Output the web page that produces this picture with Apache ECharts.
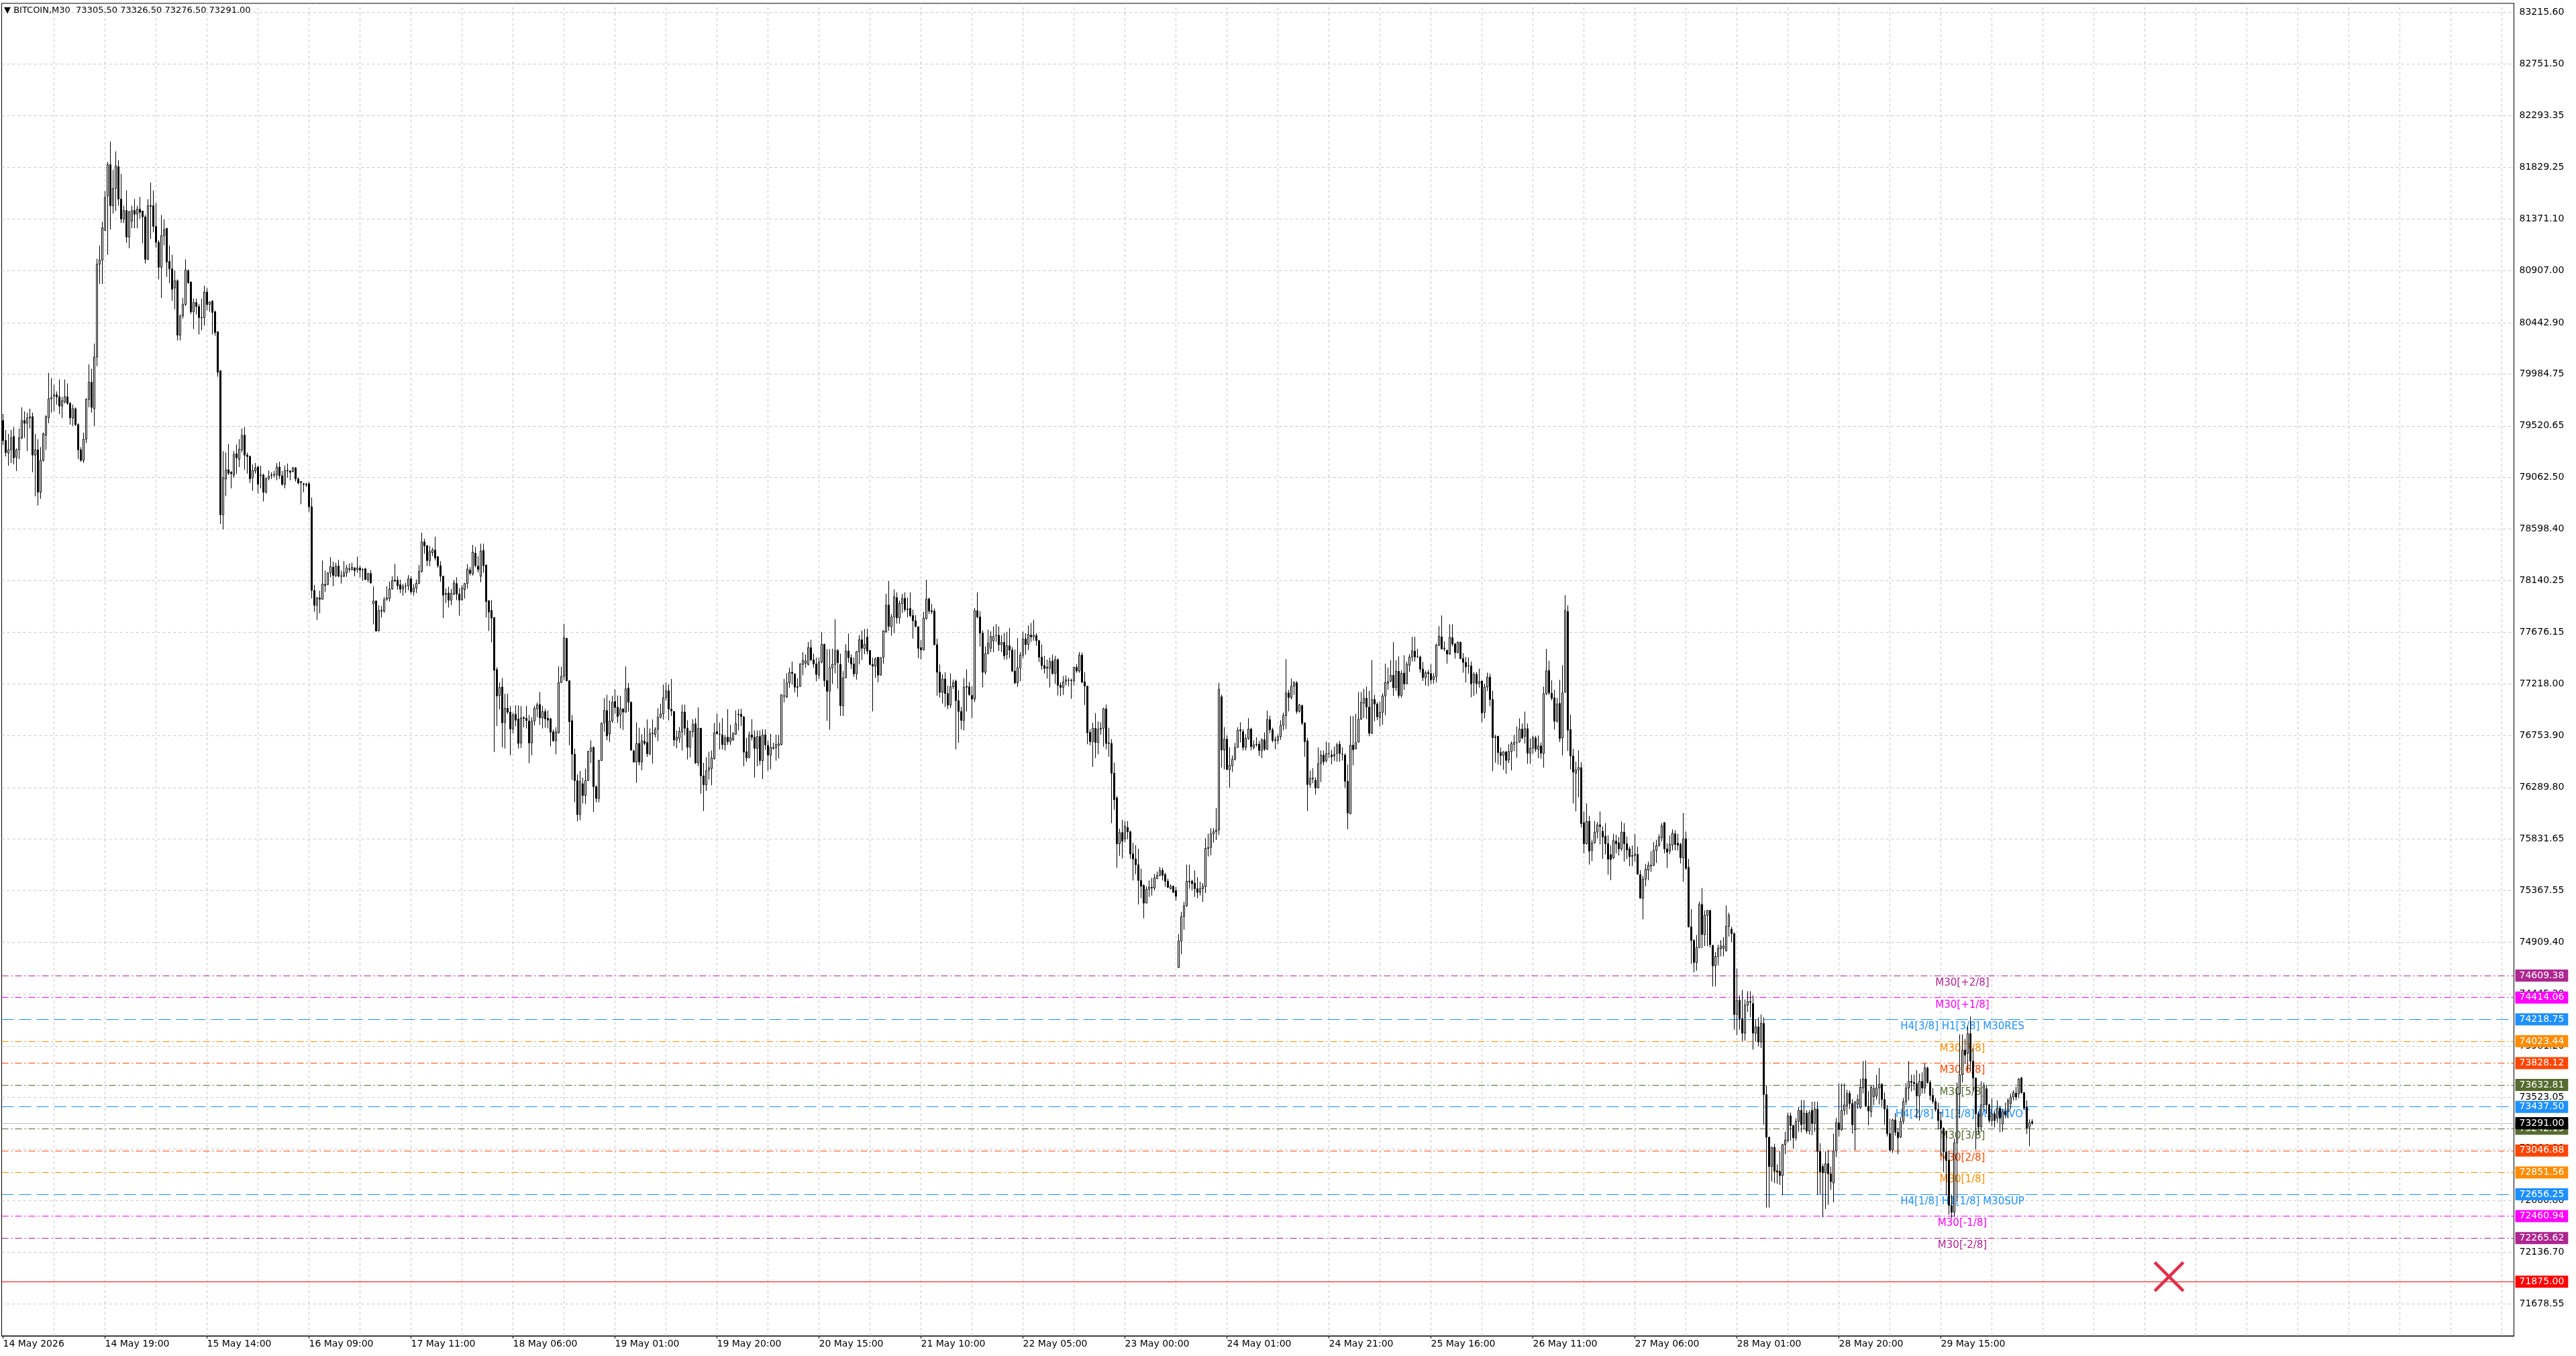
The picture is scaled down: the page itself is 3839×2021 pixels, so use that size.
<!DOCTYPE html>
<html>
<head>
<meta charset="utf-8">
<script src="https://cdn.jsdelivr.net/npm/echarts/dist/echarts.min.js"></script>
<style>
html,body{margin:0;padding:0;background:#fff;}
#chart{width:3839px;height:2021px;}
</style>
</head>
<body>
<div id="chart"></div>
<script>
const symbolName = 'BITCOIN,M30';

const timeLabels = ['14 May 2026','14 May 19:00','15 May 14:00','16 May 09:00','17 May 11:00','18 May 06:00','19 May 01:00','19 May 20:00','20 May 15:00','21 May 10:00','22 May 05:00','23 May 00:00','24 May 01:00','24 May 21:00','25 May 16:00','26 May 11:00','27 May 06:00','28 May 01:00','28 May 20:00','29 May 15:00'];

const open = [
79568,79390,79279,79307,79426,79241,79307,79414,79568,79544,
79592,79603,79260,79307,78928,79213,79437,79596,79762,79786,
79798,79781,79698,79734,79781,79722,79592,79674,79532,79307,
79213,79402,79757,79911,79674,80137,80966,81002,81267,81575,
81855,81488,81642,81836,81547,81369,81445,81208,81350,81445,
81412,81457,81440,81388,81009,81488,81488,81303,81161,80938,
81220,81286,80990,80923,80753,80817,80331,80504,80606,80907,
80805,80540,80623,80587,80488,80488,80717,80606,80634,80540,
80362,80013,78727,79046,79129,79106,79082,79272,79224,79307,
79437,79260,79248,79058,79118,79153,79082,79082,78928,79051,
79078,79082,79082,79153,79075,78999,79122,79118,79113,79146,
79047,79023,79004,78999,79004,78798,78050,
77918,77984,77972,78104,78104,78208,78258,78184,78268,78180,
78178,78208,78238,78238,78252,78236,78250,78236,78244,78148,
78202,77932,77958,77692,77872,77866,77972,77978,78064,78142,
78142,78102,78062,78090,78092,78154,78038,78072,78114,78222,
78484,78452,78318,78388,78412,78352,78272,78178,78022,78028,
77964,78018,78112,78018,77968,78060,78112,78232,78198,78384,
78268,78178,78408,78278,77958,77872,77808,77344,77112,77188,
76872,76998,76964,76812,76944,76902,76688,76914,76908,76884,
76688,76884,76994,77032,76912,76968,76908,76904,76788,76708,
76778,77228,77284,77622,77244,76888,76588,76352,76048,76324,
76218,76352,76612,76648,76298,76192,76532,76868,76978,76768,
76884,77058,77008,76938,76992,76964,77178,77052,76618,76518,
76684,76518,76704,76692,76592,76772,76764,76812,76918,76948,
77094,77154,76990,76970,76714,76730,76786,76964,76820,76650,
76790,76860,76510,76820,76394,76314,76444,76460,76546,76790,
76766,76760,76674,76740,76700,76714,76766,76944,76944,76920,
76610,76560,76760,76740,76640,76746,76530,76760,76666,76580,
76646,76646,76666,76674,77106,77100,77226,77320,77306,77190,
77194,77390,77400,77390,77540,77430,77394,77294,77410,77570,
77246,77150,77360,77390,77514,77390,77020,77270,77510,77450,
77394,77306,77504,77610,77530,77634,77514,77390,77374,77454,
77294,77454,77680,77920,77726,77814,77986,77806,77934,77980,
77884,77890,77826,77780,77726,77540,77520,77800,77974,77870,
77866,77566,77320,77140,77260,77130,77026,77190,77240,77066,
76970,76890,77186,77190,77114,77080,77870,77814,77670,77320,
77486,77534,77600,77650,77650,77566,77586,
77478,77557,77518,77331,77225,77360,77473,77617,77568,77651,
77636,77647,77602,77455,77380,77365,77354,77421,77309,77433,
77203,77185,77239,77248,77248,77245,77365,77331,77473,77234,
77196,76783,76700,76819,76693,76812,76819,76993,76689,76684,
76418,76197,75787,75888,75830,75933,75895,75697,75652,75600,
75460,75415,75257,75381,75399,75392,75476,75505,75550,75512,
75453,75385,75408,75370,74682,74919,75138,75234,75453,75453,
75437,75386,75354,75386,75404,75746,75753,75877,75895,75911,
77100,76625,76722,76452,76486,76542,76648,76806,76790,76648,
76729,76812,76648,76677,76677,76621,76716,76632,76896,76806,
76716,76711,76745,76846,76932,77135,77095,77196,77225,76970,
77022,76865,76707,76317,76373,76355,76287,76504,76580,76531,
76594,76580,76572,76594,76677,76587,76580,76346,
76056,76668,76636,76696,76902,77042,77088,77008,76776,77076,
77036,76916,76962,77108,77222,77240,77292,77182,77328,77112,
77312,77216,77382,77456,77508,77458,77456,77348,77272,77316,
77308,77256,77282,77562,77636,77528,77516,77482,77628,77572,
77496,77588,77442,77408,77376,77376,77228,77302,77222,77242,
76962,77188,77276,77076,76736,76748,76602,76576,76608,76536,
76612,76676,76692,76700,76812,76748,76816,76596,76642,76732,
76632,76662,76596,77128,77336,77132,77092,76882,77042,76732,
77142,77862,76808,76572,76416,76448,76468,75976,75788,75988,
75728,75796,75892,75956,75900,75856,75788,75690,75662,75812,
75796,75742,75892,75788,75742,75682,75682,75692,75512,75302,
75472,75552,75588,75596,75728,75772,75842,75976,75742,75722,
75776,75876,75792,75782,75662,75832,75576,
75045,74923,74727,74861,75246,74976,75148,75192,74879,74697,
74781,74850,74854,74830,75050,75025,74984,74262,74389,74225,
74095,74347,74378,74360,74095,74152,74017,74183,73547,73166,
72904,73075,72867,72862,72823,73100,73136,73357,73271,73161,
73308,73406,73288,73381,73222,73406,73288,73418,73039,72904,
72848,72929,72838,72757,73044,73295,73234,73406,73442,73557,
73467,73234,73460,73430,73606,73687,73442,73393,73528,73533,
73606,73638,73503,73418,73198,73051,73320,73210,73166,73308,
73484,73605,73665,73655,73645,73535,73665,73605,73785,73655,
73539,73485,73415,73315,73245,73035,72959,72555,72495,73115,
73555,73725,73945,73915,74091,73845,73695,73375,73259,73455,
73599,73455,73315,73375,73335,73425,73285,73395,73395,73465,
73525,73559,73555,73695,73565,73435,73255,73305.5
];

const high = [
79627,79485,79449,79485,79509,79319,79497,79686,79651,79639,
79674,79639,79449,79402,79331,79461,79615,79994,79947,79888,
79828,79935,79781,79935,79900,79734,79710,79686,79544,79331,
79461,79769,80070,80030,80255,81014,81132,81345,81618,81879,
82061,81808,81973,81895,81772,81488,81625,81440,81488,81547,
81488,81566,81440,81405,81545,81694,81625,81511,81180,81405,
81364,81286,81132,81049,80907,80829,80516,80663,81009,80919,
80812,80658,80658,80611,80658,80772,80753,80634,80646,80551,
80362,80018,79295,79283,79359,79118,79295,79355,79402,79497,
79509,79283,79255,79177,79189,79165,79165,79094,79058,79122,
79106,79118,79189,79201,79118,79165,79184,79122,79153,79153,
79058,79023,79011,79011,79018,78880,78100,
77992,78048,78318,78228,78212,78348,78308,78298,78324,78228,
78312,78278,78292,78298,78258,78352,78272,78252,78252,78208,
78232,78088,77958,77918,77912,77992,78088,78128,78178,78288,
78178,78148,78108,78118,78188,78178,78108,78148,78278,78568,
78512,78452,78448,78432,78532,78358,78312,78178,78068,78084,
78064,78144,78168,78072,78098,78118,78284,78258,78458,78438,
78358,78468,78468,78278,77964,77964,77812,77364,77228,77268,
77128,77128,77018,76958,77024,77024,77018,76928,77018,76938,
76918,77018,77048,77144,77018,76992,76978,76912,76808,76828,
77372,77368,77752,77628,77248,76938,76638,76408,76438,76378,
76458,76618,76712,76658,76308,76538,76872,77088,77118,77068,
77108,77168,77112,77108,76998,77372,77224,77058,76628,76872,
76824,76764,76824,76898,76818,76898,76828,76998,77038,77208,
77230,77210,77260,76970,76800,76830,77030,77030,76890,76800,
76900,76910,77006,76820,76510,76560,76610,76620,76866,76950,
76870,76910,76760,76990,76850,76786,76980,76990,76994,76930,
76734,76790,76900,76800,76800,76800,76810,76810,76710,76770,
76690,76760,76760,77120,77260,77310,77360,77414,77306,77266,
77400,77500,77480,77590,77610,77486,77450,77450,77680,77574,
77526,77526,77530,77794,77526,77486,77330,77570,77666,77480,
77454,77510,77650,77694,77706,77710,77520,77450,77454,77454,
77454,77694,78020,78134,77840,78060,78034,77960,78020,78034,
77986,78034,77880,77830,77730,77610,77860,78146,77986,77930,
77890,77620,77390,77300,77320,77200,77310,77254,77254,77160,
77010,77266,77346,77234,77194,77894,78034,77866,77694,77550,
77700,77686,77730,77750,77730,77650,77674,
77681,77714,77545,77523,77624,77500,77681,77669,77737,77760,
77789,77669,77609,77568,77466,77433,77451,77478,77466,77444,
77230,77286,77293,77270,77263,77369,77392,77500,77496,77320,
77196,76812,76869,76955,76880,76873,77004,77031,76824,76722,
76513,76215,75922,76001,75990,75990,75904,75798,75776,75742,
75566,75426,75408,75460,75483,75517,75539,75580,75573,75528,
75476,75426,75415,75403,74980,75179,75269,75602,75602,75467,
75550,75489,75449,75437,75836,75877,75927,75927,76107,77225,
77120,76830,76756,76648,76576,76689,76828,76873,76812,76767,
76910,76824,76711,76738,76707,76729,76783,76977,76932,76824,
76745,76767,76891,76959,77437,77162,77263,77241,77241,77038,
77031,76874,76734,76441,76463,76380,76648,76621,76621,76700,
76693,76626,76655,76689,76707,76650,76594,76497,
76928,76928,76948,77142,77142,77172,77192,77152,77428,77116,
77052,77056,77132,77396,77362,77428,77588,77428,77462,77336,
77472,77416,77482,77636,77636,77528,77468,77412,77332,77342,
77392,77312,77576,77732,77828,77596,77522,77748,77748,77582,
77596,77592,77492,77456,77452,77416,77322,77322,77352,77242,
77216,77316,77308,77156,76762,76752,76648,76616,76616,76676,
76702,76762,76836,76908,76862,76968,76862,76728,76752,76752,
76752,76692,77192,77528,77422,77248,77162,77092,77252,77382,
78008,77916,76942,76636,76522,76622,76516,76076,76148,76036,
75822,75992,75982,76076,75942,75972,75862,75772,75876,75868,
75848,75988,75972,75852,75762,75772,75876,75762,75552,75502,
75608,75628,75722,75802,75822,75872,75972,75982,75792,75862,
75916,75908,75876,75796,76062,75896,75652,
75204,74937,74972,75270,75392,75192,75197,75197,74886,74820,
74886,74927,74952,75236,75172,75045,74996,74673,74433,74482,
74396,74470,74470,74433,74213,74237,74262,74237,73626,73170,
73082,73107,72924,73039,73107,73214,73386,73386,73278,73337,
73435,73498,73498,73406,73406,73484,73484,73484,73112,72929,
73039,73051,72904,73197,73337,73645,73645,73645,73589,73582,
73508,73491,73547,73687,73846,73851,73577,73626,73631,73723,
73785,73650,73565,73454,73332,73332,73381,73247,73344,73515,
73650,73845,73725,73725,73765,73735,73745,73825,73795,73675,
73605,73515,73475,73395,73255,73225,73045,72655,73155,73655,
74085,74085,74045,74155,74245,73965,73695,73395,73665,73655,
73635,73465,73515,73395,73495,73445,73415,73475,73515,73555,
73585,73615,73695,73705,73565,73495,73325,73326.5
];

const low = [
79350,79248,79165,79189,79177,79118,79224,79402,79414,79296,
79497,79106,78892,78809,78869,79201,79307,79544,79639,79651,
79710,79627,79592,79722,79710,79532,79520,79520,79224,79201,
79189,79366,79686,79639,79520,80054,80788,80788,81262,81049,
81274,81417,81440,81488,81333,81333,81156,81108,81286,81286,
81286,81369,81151,80971,81002,81191,81250,81113,80829,80663,
81132,80852,80795,80639,80563,80284,80284,80480,80592,80788,
80521,80386,80516,80338,80374,80416,80551,80540,80338,80326,
79959,78644,78596,78893,79082,78963,79058,79094,79153,79283,
79129,79094,79011,78940,79094,78916,78963,78845,78916,79035,
79047,79058,79035,79047,78987,78963,79058,79035,79106,79023,
78999,78821,78928,78975,78750,77980,77860,
77788,77848,77968,78038,78098,78168,78088,78168,78168,78112,
78168,78172,78212,78228,78178,78208,78168,78138,78144,78124,
78112,77748,77684,77684,77808,77852,77958,77952,78058,78128,
78058,78028,78004,78028,78052,78018,78004,78028,78108,78208,
78378,78268,78268,78358,78318,78252,78128,77804,77938,77898,
77918,78008,77964,77824,77958,77978,78068,78184,78184,78258,
78212,78124,78208,77808,77688,77588,76608,76838,76988,76648,
76638,76948,76578,76772,76838,76638,76644,76828,76818,76508,
76578,76844,76918,76848,76818,76824,76818,76658,76698,76588,
76772,77224,77252,77238,76668,76358,76158,75988,75998,76148,
76144,76348,76508,76072,76158,76158,76528,76788,76712,76698,
76868,76948,76868,76818,76804,76958,76968,76618,76512,76332,
76488,76444,76668,76564,76578,76504,76738,76704,76908,76898,
77066,76890,76930,76660,76640,76690,76620,76760,76540,76560,
76740,76500,76480,76234,76080,76260,76360,76310,76540,76766,
76630,76630,76620,76670,76670,76710,76760,76800,76840,76480,
76520,76550,76710,76380,76480,76490,76366,76626,76440,76454,
76630,76530,76550,76666,77050,77090,77180,77210,77140,77100,
77190,77294,77360,77380,77420,77360,77240,77260,77400,77190,
76886,76806,77214,77310,77174,76930,76930,77270,77406,77350,
77280,77254,77390,77430,77480,77480,77380,76970,77270,77230,
77290,77394,77670,77690,77646,77670,77754,77754,77850,77860,
77810,77810,77620,77720,77446,77434,77514,77790,77840,77840,
77560,77110,77094,77040,77010,76990,77000,77170,76630,76690,
76810,76800,76970,77110,76910,77054,77800,77550,77186,77300,
77480,77500,77500,77590,77510,77500,77434,
77433,77444,77320,77212,77189,77241,77444,77478,77518,77590,
77602,77557,77410,77342,77309,77263,77184,77297,77218,77112,
77106,77117,77203,77196,77083,77203,77315,77315,77225,77027,
76677,76666,76474,76553,76587,76761,76655,76632,76565,75972,
76091,75573,75679,75656,75800,75827,75652,75460,75516,75246,
75302,75122,75257,75313,75325,75370,75471,75498,75460,75403,
75392,75381,75347,75280,74678,74800,75020,75223,75386,75370,
75313,75302,75325,75268,75347,75674,75685,75798,75821,75866,
76468,76452,76445,76287,76429,76531,76648,76693,76621,76621,
76716,76621,76632,76655,76572,76553,76617,76626,76774,76693,
76632,76680,76716,76801,76813,76970,77077,77117,76948,76959,
76847,76565,76080,76287,76328,76226,76283,76339,76490,76513,
76553,76497,76527,76520,76520,76531,76287,75917,
76052,76488,76632,76692,76892,76912,76902,76748,76768,76882,
76892,76836,76852,76936,77162,77230,77108,77152,77088,77092,
77162,77212,77322,77416,77416,77448,77316,77242,77202,77196,
77216,77216,77228,77552,77522,77508,77396,77476,77552,77442,
77488,77436,77316,77228,77308,77096,77108,77128,77182,76872,
76908,77152,77016,76436,76512,76496,76488,76448,76412,76508,
76442,76616,76556,76690,76722,76682,76502,76502,76592,76608,
76552,76548,76468,77116,77116,77068,76808,76870,76696,76576,
77136,76616,76452,76148,76076,76202,75932,75702,75780,75602,
75632,75788,75836,75782,75652,75692,75512,75462,75652,75702,
75682,75722,75628,75652,75588,75588,75628,75512,75296,75112,
75408,75462,75536,75588,75616,75762,75808,75702,75572,75696,
75728,75728,75728,75612,75448,75554,75040,
74715,74639,74654,74854,74854,74874,74874,74862,74512,74512,
74702,74781,74781,74825,74959,74910,74127,74078,74127,74022,
74029,74286,74237,73948,74022,73980,73963,73278,72537,72537,
72770,72757,72750,72740,72647,73014,73117,73136,73063,73136,
73215,73210,73234,73198,73190,73185,73215,72652,72659,72451,
72525,72562,72696,72586,72989,73173,73222,73361,73369,73418,
73198,73051,73418,73418,73557,73435,73271,73344,73454,73503,
73459,73430,73278,73173,73039,73026,73180,73014,73161,73283,
73454,73495,73575,73585,73335,73315,73555,73555,73645,73495,
73465,73395,73235,72995,72855,72645,72475,72445,72455,72595,
73335,73655,73825,73755,73755,73575,73055,73195,73215,73395,
73375,73295,73265,73255,73295,73211,73215,73335,73335,73415,
73495,73495,73515,73555,73415,73195,73085,73276.5
];

const close = [
79390,79283,79307,79414,79236,79307,79414,79568,79544,79592,
79603,79260,79307,78928,79213,79449,79603,79762,79774,79798,
79781,79698,79746,79781,79722,79592,79674,79532,79307,79213,
79402,79757,79911,79686,80137,80966,81002,81291,81563,81855,
81488,81642,81843,81547,81369,81445,81208,81435,81445,81412,
81457,81428,81388,81009,81488,81483,81303,81161,80938,81220,
81274,80985,80923,80741,80817,80331,80504,80606,80914,80800,
80540,80623,80587,80488,80486,80717,80604,80627,80535,80355,
79999,78727,79058,79129,79098,79094,79264,79236,79312,79437,
79260,79248,79047,79122,79146,78999,79078,78928,79051,79070,
79082,79087,79153,79075,78999,79122,79118,79106,79146,79047,
79011,79015,78999,78994,78798,78050,77918,
77984,77972,78108,78096,78208,78264,78184,78268,78178,78178,
78208,78252,78244,78258,78228,78252,78232,78234,78148,78202,
78118,77956,77688,77872,77866,77968,77984,78064,78138,78134,
78092,78062,78088,78092,78154,78038,78072,78114,78222,78484,
78448,78318,78398,78412,78342,78272,78178,78008,78016,77964,
78024,78118,78018,77964,78072,78112,78242,78204,78392,78272,
78238,78404,78272,77952,77858,77804,77338,77108,77184,76868,
76998,76964,76812,76938,76892,76684,76912,76908,76888,76688,
76884,76998,77028,76912,76968,76904,76892,76784,76708,76788,
77228,77284,77628,77244,76878,76588,76352,76048,76344,76218,
76352,76612,76644,76298,76192,76532,76864,76978,76752,76884,
77052,77004,76924,76992,76964,77172,77052,76624,76518,76684,
76518,76708,76684,76592,76772,76778,76812,76918,76948,77092,
77154,76990,76974,76714,76740,76790,76964,76820,76650,76790,
76854,76510,76820,76394,76314,76440,76466,76554,76780,76770,
76764,76674,76734,76700,76734,76770,76860,76940,76924,76606,
76554,76760,76740,76640,76746,76530,76760,76670,76580,76650,
76640,76674,76680,77120,77110,77226,77320,77310,77186,77186,
77394,77426,77422,77540,77430,77394,77300,77410,77570,77246,
77150,77360,77390,77514,77406,77020,77270,77510,77450,77394,
77306,77504,77610,77534,77570,77510,77390,77374,77440,77294,
77450,77690,77920,77730,77814,77994,77806,77934,77980,77880,
77880,77826,77780,77730,77534,77520,77804,77974,77866,77860,
77566,77320,77140,77260,77130,77026,77190,77226,77066,76970,
76890,77186,77194,77120,77080,77870,77814,77670,77320,77486,
77580,77640,77640,77650,77566,77586,77466,
77557,77518,77331,77225,77360,77473,77617,77568,77658,77636,
77651,77602,77455,77380,77354,77358,77415,77309,77433,77203,
77185,77234,77252,77248,77245,77365,77331,77473,77230,77196,
76779,76700,76819,76693,76812,76819,76993,76684,76684,76418,
76181,75787,75888,75809,75945,75895,75697,75652,75600,75460,
75408,75257,75381,75399,75392,75483,75505,75550,75505,75453,
75399,75408,75354,75318,74919,75138,75234,75453,75448,75431,
75386,75354,75386,75408,75746,75753,75877,75895,75911,77167,
76625,76722,76452,76490,76542,76648,76801,76797,76648,76729,
76812,76655,76671,76673,76621,76716,76632,76896,76806,76711,
76711,76745,76846,76932,77135,77095,77196,77225,76970,77027,
76865,76700,76317,76373,76368,76287,76504,76580,76520,76594,
76594,76565,76587,76671,76594,76587,76346,76062,
76668,76628,76692,76902,77052,77088,77008,76776,77076,77036,
76922,76962,77108,77228,77236,77292,77182,77328,77112,77312,
77216,77392,77456,77512,77456,77458,77348,77272,77316,77308,
77252,77282,77562,77642,77528,77536,77482,77632,77572,77496,
77588,77442,77408,77368,77376,77216,77302,77216,77236,76956,
77188,77276,77076,76736,76742,76602,76576,76608,76532,76612,
76682,76692,76692,76812,76732,76816,76596,76642,76736,76632,
76662,76596,77128,77332,77136,77088,76882,77036,76728,77136,
77872,76802,76572,76428,76448,76468,75968,75788,75988,75722,
75796,75892,75956,75942,75848,75788,75648,75648,75816,75788,
75742,75892,75788,75732,75672,75676,75696,75516,75302,75472,
75562,75596,75596,75728,75772,75848,75948,75742,75712,75782,
75882,75782,75776,75662,75832,75568,75045,
74923,74727,74861,75246,74976,75148,75192,74886,74697,74781,
74854,74874,74874,75050,75148,74984,74262,74389,74225,74095,
74347,74378,74371,74095,74152,74017,74183,73547,73166,72904,
73075,72862,72857,72823,73100,73141,73357,73271,73161,73308,
73406,73278,73381,73222,73386,73288,73418,73039,72855,72848,
72929,72838,72769,73044,73295,73234,73406,73454,73557,73467,
73278,73479,73503,73613,73687,73442,73400,73613,73601,73606,
73638,73503,73418,73198,73051,73320,73210,73161,73308,73484,
73606,73665,73655,73645,73535,73665,73605,73785,73655,73539,
73485,73415,73315,73245,73035,72959,72555,72495,73115,73555,
73725,73945,73899,74091,73845,73695,73375,73255,73455,73625,
73455,73315,73375,73315,73425,73335,73395,73365,73495,73525,
73565,73525,73685,73565,73425,73245,73295,73291
];

const yTickValues = [83215.60,82751.50,82293.35,81829.25,81371.10,80907.00,80442.90,79984.75,79520.65,79062.50,78598.40,78140.25,77676.15,77218.00,76753.90,76289.80,75831.65,75367.55,74909.40,74445.30,73981.20,73523.05,73064.90,72600.80,72136.70,71678.55];

const levelValues = [74609.38,74414.06,74218.75,74023.44,73828.12,73632.81,73437.50,73242.19,73046.88,72851.56,72656.25,72460.94,72265.62];
const levelNames = ['M30[+2/8]','M30[+1/8]','H4[3/8] H1[3/8] M30RES','M30[7/8]','M30[6/8]','M30[5/8]','H4[2/8] H1[2/8] M30PIVOT','M30[3/8]','M30[2/8]','M30[1/8]','H4[1/8] H1[1/8] M30SUP','M30[-1/8]','M30[-2/8]'];
const levelColors = ['#AD2690','#FF00FF','#1E90FF','#FF8C00','#FF4500','#556B2F','#1E90FF','#556B2F','#FF4500','#FF8C00','#1E90FF','#FF00FF','#AD2690'];

const alertPrice = 71875.00;
const crossMark = [807, 71920];

// ---- layout / style constants ----
const FONT = 'DejaVu Sans';
const N_SLOTS = 936;
const LABEL_STEP = 38;
const GRID_STEP = 19;
const LEVEL_LABEL_BAR = 730;
const Y_MIN = 71391.3;
const Y_MAX = 83295.4;
const gridDash = [4, 4];
const dashDot = [10, 4, 2, 4];
const longDash = [18, 8];

const last = close.length - 1;
const bidPrice = close[last];
const categories = Array.from({length: N_SLOTS}, (_, i) => String(i));
const isLabelIdx = i => i % LABEL_STEP === 0 && (i / LABEL_STEP) < timeLabels.length;
const candleData = open.map((o, i) => [o, close[i], low[i], high[i]]);

const gridLineStyle = {color: '#c8c8c8', type: gridDash, width: 1};

const hGrid = yTickValues.map(v => ({
  name: v.toFixed(2), yAxis: v, lineStyle: gridLineStyle,
  label: {show: true, position: 'end', formatter: '{b}', color: '#000', fontSize: 14, distance: 8, fontFamily: FONT}
}));
const vGrid = [];
for (let k = 1; k * GRID_STEP < N_SLOTS; k++) {
  vGrid.push({xAxis: k * GRID_STEP, lineStyle: gridLineStyle, label: {show: false}});
}

const boxLabel = bg => ({
  show: true, position: 'end', formatter: '{b}', color: '#fff', backgroundColor: bg,
  padding: [2, 6, 1, 6], fontSize: 14, lineHeight: 15, distance: 2, fontFamily: FONT
});

const levelLines = levelValues.map((v, i) => ({
  name: v.toFixed(2), yAxis: v,
  lineStyle: {color: levelColors[i], type: levelNames[i].startsWith('H4') ? longDash : dashDot, width: 1},
  label: boxLabel(levelColors[i])
}));
levelLines.push({name: bidPrice.toFixed(2), yAxis: bidPrice, lineStyle: {color: '#c0c0c0', type: 'solid', width: 1}, label: boxLabel('#000000')});
levelLines.push({name: alertPrice.toFixed(2), yAxis: alertPrice, lineStyle: {color: '#ff0000', type: 'solid', width: 1}, label: boxLabel('#ff0000')});

const levelTexts = levelNames.map((n, i) => ({
  name: n, coord: [LEVEL_LABEL_BAR, levelValues[i]],
  label: {show: true, position: 'bottom', distance: 3, formatter: '{b}', color: levelColors[i], fontSize: 15, fontFamily: FONT}
}));

const headerText = '\u25BC ' + symbolName + '  ' + [open[last], high[last], low[last], close[last]].map(v => v.toFixed(2)).join(' ');

const chart = echarts.init(document.getElementById('chart'), null, {renderer: 'canvas'});
chart.setOption({
  animation: false,
  backgroundColor: '#ffffff',
  textStyle: {fontFamily: FONT},
  title: {
    text: headerText, left: 6, top: 9, padding: 0,
    textStyle: {fontSize: 13, fontWeight: 'normal', color: '#000', fontFamily: FONT}
  },
  grid: {left: 2.5, right: 92.5, top: 5, bottom: 30, show: true, borderColor: '#000', borderWidth: 1, backgroundColor: '#fff', containLabel: false, outerBoundsMode: 'none'},
  xAxis: {
    type: 'category', data: categories, boundaryGap: true,
    axisLine: {show: true, lineStyle: {color: '#000', width: 1}},
    axisTick: {show: true, alignWithLabel: true, interval: i => isLabelIdx(i), length: 4, lineStyle: {color: '#000'}},
    axisLabel: {
      show: true, interval: i => isLabelIdx(i),
      formatter: (v, i) => timeLabels[i / LABEL_STEP] || '',
      align: 'left', fontSize: 14, color: '#000', margin: 5, fontFamily: FONT
    },
    splitLine: {show: false}
  },
  yAxis: {
    type: 'value', position: 'right', min: Y_MIN, max: Y_MAX,
    axisLine: {show: true, lineStyle: {color: '#000'}},
    axisTick: {show: false}, axisLabel: {show: false}, splitLine: {show: false}
  },
  series: [
    {
      type: 'line', name: 'grid', data: [], clip: false, silent: true,
      markLine: {silent: true, symbol: ['none', 'none'], z: 1, animation: false, precision: 2, data: hGrid.concat(vGrid)}
    },
    {
      type: 'line', name: 'levels', data: [], clip: false, silent: true,
      markLine: {silent: true, symbol: ['none', 'none'], z: 1, animation: false, precision: 2, data: levelLines},
      markPoint: {silent: true, z: 1, animation: false, symbol: 'circle', symbolSize: 1, itemStyle: {color: 'rgba(0,0,0,0)'}, data: levelTexts}
    },
    {
      type: 'candlestick', name: symbolName, data: candleData, barWidth: 2, large: false, z: 2,
      itemStyle: {color: '#ffffff', color0: '#000000', borderColor: '#000000', borderColor0: '#000000', borderColorDoji: '#000000', borderWidth: 1}
    },
    {
      type: 'line', name: 'objects', data: [], clip: false, silent: true,
      markPoint: {
        silent: true, z: 3, animation: false,
        data: [{
          coord: crossMark,
          symbol: 'path://M0,1 L1,0 L7,6 L13,0 L14,1 L8,7 L14,13 L13,14 L7,8 L1,14 L0,13 L6,7 Z',
          symbolSize: 46, itemStyle: {color: '#E0304A'}, label: {show: false}
        }]
      }
    }
  ]
});
</script>
</body>
</html>
